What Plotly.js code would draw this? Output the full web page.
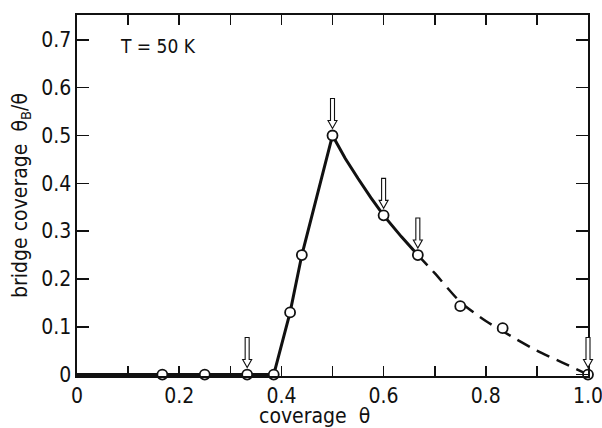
<!DOCTYPE html>
<html>
<head>
<meta charset="utf-8">
<script src="https://cdn.plot.ly/plotly-3.0.1.min.js"></script>
<style>html,body{margin:0;padding:0;background:#fff;}#chart{width:602px;height:428px;}</style>
</head>
<body>
<div id="chart"></div>
<script>
// Measured data points (open circles)
const pointX = [0.167, 0.25, 0.333, 0.385, 0.417, 0.44, 0.5, 0.6, 0.667, 0.75, 0.833, 1.0];
const pointY = [0, 0, 0, 0, 0.13, 0.25, 0.5, 0.333, 0.25, 0.143, 0.097, 0];
// Solid guide curve
const solidX = [0, 0.385, 0.417, 0.44, 0.5, 0.525, 0.55, 0.575, 0.6, 0.635, 0.667];
const solidY = [0, 0, 0.13, 0.25, 0.5, 0.452, 0.41, 0.37, 0.333, 0.288, 0.25];
// Dashed guide curve
const dashX = [0.667, 0.7, 0.75, 0.8, 0.85, 0.9, 0.95, 1.0];
const dashY = [0.25, 0.212, 0.152, 0.112, 0.08, 0.05, 0.025, 0];
// Hollow arrows marking special coverages
const arrowX = [0.333, 0.5, 0.6, 0.667, 1.0];
const arrowY = [0, 0.5, 0.333, 0.25, 0];
// Axis ranges and ticks
const xRange = [0, 1.0];
const yRange = [-0.003, 0.752];
const xTickVals = [0, 0.1, 0.2, 0.3, 0.4, 0.5, 0.6, 0.7, 0.8, 0.9, 1.0];
const xTickText = ['0', '', '0.2', '', '0.4', '', '0.6', '', '0.8', '', '1.0'];
const yTickVals = [0, 0.1, 0.2, 0.3, 0.4, 0.5, 0.6, 0.7];
const yTickText = ['0', '0.1', '0.2', '0.3', '0.4', '0.5', '0.6', '0.7'];
const xTitle = 'coverage  θ';
const yTitle = 'bridge coverage  θ<sub>B</sub>/θ';
const tempLabel = 'T = 50 K';

const FONT = "'DejaVu Sans Condensed', 'DejaVu Sans', sans-serif";
const INK = '#111';

const toPaperX = v => (v - xRange[0]) / (xRange[1] - xRange[0]);
const toPaperY = v => (v - yRange[0]) / (yRange[1] - yRange[0]);

const arrowPath = 'M0,7 L-4.5,15 L-2,15 L-2,37 L2,37 L2,15 L4.5,15 Z';
const shapes = arrowX.map((ax, i) => ({
  type: 'path', xref: 'paper', yref: 'paper',
  xsizemode: 'pixel', ysizemode: 'pixel',
  xanchor: toPaperX(ax), yanchor: toPaperY(arrowY[i]),
  path: arrowPath,
  line: {color: INK, width: 1.1},
  fillcolor: '#fff'
}));

const traces = [
  {x: solidX, y: solidY, mode: 'lines', line: {color: INK, width: 3, shape: 'linear'}, cliponaxis: false, hoverinfo: 'skip'},
  {x: dashX, y: dashY, mode: 'lines', line: {color: INK, width: 2.5, dash: '14px,8px', shape: 'spline', smoothing: 0.6}, cliponaxis: false, hoverinfo: 'skip'},
  {x: pointX, y: pointY, mode: 'markers', marker: {symbol: 'circle', size: 10, color: '#fff', line: {color: INK, width: 1.8}}, cliponaxis: false}
];

const layout = {
  width: 602, height: 428,
  margin: {l: 77, r: 14, t: 15, b: 52},
  paper_bgcolor: '#fff', plot_bgcolor: '#fff',
  showlegend: false,
  font: {family: FONT, color: INK, size: 20},
  xaxis: {
    range: xRange, tickmode: 'array', tickvals: xTickVals, ticktext: xTickText,
    ticks: 'inside', ticklen: 10, tickwidth: 1.6, tickcolor: INK,
    showline: true, linecolor: INK, linewidth: 1.6, mirror: 'ticks',
    showgrid: false, zeroline: false, ticklabeloverflow: 'allow',
    tickfont: {family: FONT, size: 21, color: INK},
    fixedrange: true
  },
  yaxis: {
    range: yRange, tickmode: 'array', tickvals: yTickVals, ticktext: yTickText,
    ticks: 'inside', ticklen: 12, tickwidth: 1.6, tickcolor: INK,
    showline: true, linecolor: INK, linewidth: 1.6, mirror: 'ticks',
    showgrid: false, zeroline: false,
    tickfont: {family: FONT, size: 21, color: INK},
    title: {text: yTitle, font: {family: FONT, size: 21, color: INK}, standoff: 8},
    fixedrange: true
  },
  shapes: shapes,
  annotations: [
    {
      text: tempLabel, xref: 'paper', yref: 'paper', x: 0.08, y: 0.915,
      xanchor: 'left', yanchor: 'middle', showarrow: false,
      font: {family: FONT, size: 19, color: INK}
    },
    {
      text: xTitle, xref: 'paper', yref: 'paper', x: 0.464, y: 0, yshift: -40,
      xanchor: 'center', yanchor: 'middle', showarrow: false,
      font: {family: FONT, size: 21, color: INK}
    }
  ]
};

Plotly.newPlot('chart', traces, layout, {staticPlot: true, displayModeBar: false});
</script>
</body>
</html>
